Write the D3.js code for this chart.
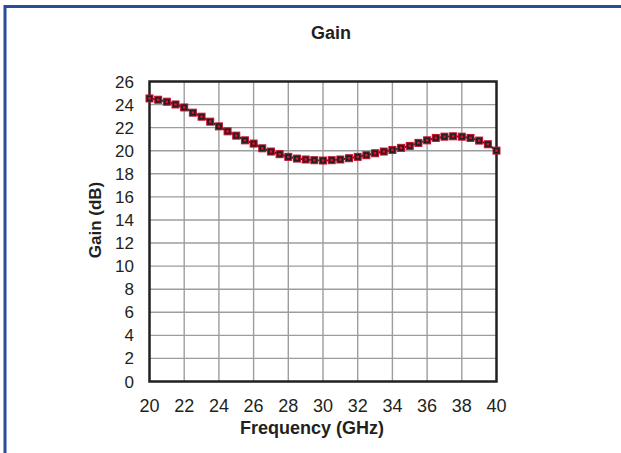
<!DOCTYPE html>
<html lang="en">
<head>
    <meta charset="UTF-8">
    <title>Gain</title>
    <script src="https://d3js.org/d3.v7.min.js"></script>
    <style>
        body { margin: 0; background: #fff; }
        svg text { font-family: "Liberation Sans", Arial, sans-serif; fill: #231f20; }
        .grid line { stroke: #9d9d9d; stroke-width: 1.4px; }
        .tick-label { font-size: 17px; }
        .axis-title { font-size: 17px; font-weight: bold; }
    </style>
</head>
<body>
    <svg width="621" height="453"></svg>
    <script>
        // frequency points (GHz)
        const freq = [20, 20.5, 21, 21.5, 22, 22.5, 23, 23.5, 24, 24.5,
                      25, 25.5, 26, 26.5, 27, 27.5, 28, 28.5, 29, 29.5,
                      30, 30.5, 31, 31.5, 32, 32.5, 33, 33.5, 34, 34.5,
                      35, 35.5, 36, 36.5, 37, 37.5, 38, 38.5, 39, 39.5, 40];
        // measured gain (dB)
        const gain = [24.53, 24.42, 24.25, 24.01, 23.75, 23.30, 22.95, 22.52, 22.11, 21.68,
                      21.31, 20.90, 20.62, 20.21, 19.93, 19.70, 19.47, 19.32, 19.24, 19.18,
                      19.15, 19.18, 19.24, 19.35, 19.47, 19.61, 19.78, 19.93, 20.07, 20.25,
                      20.42, 20.68, 20.90, 21.11, 21.22, 21.25, 21.22, 21.11, 20.88, 20.56, 20.01];
        const xTicks = [20, 22, 24, 26, 28, 30, 32, 34, 36, 38, 40];
        const yTicks = [0, 2, 4, 6, 8, 10, 12, 14, 16, 18, 20, 22, 24, 26];

        const svg = d3.select("svg");
        const plotL = 149.5, plotR = 496.5, plotT = 81.5, plotB = 381.5;

        const x = d3.scaleLinear().domain([20, 40]).range([plotL, plotR]);
        const y = d3.scaleLinear().domain([0, 26]).range([plotB, plotT]);

        // blue frame (top + left only)
        svg.append("line").attr("x1", 4).attr("x2", 621).attr("y1", 6.5).attr("y2", 6.5)
            .attr("stroke", "#2b4c9b").attr("stroke-width", 3);
        svg.append("line").attr("x1", 5).attr("x2", 5).attr("y1", 5).attr("y2", 453)
            .attr("stroke", "#2b4c9b").attr("stroke-width", 3);

        // grid
        const grid = svg.append("g").attr("class", "grid");
        grid.selectAll(".vx").data(xTicks.slice(1, -1)).enter().append("line")
            .attr("x1", d => x(d)).attr("x2", d => x(d))
            .attr("y1", plotT).attr("y2", plotB);
        grid.selectAll(".hy").data(yTicks.slice(1, -1)).enter().append("line")
            .attr("x1", plotL).attr("x2", plotR)
            .attr("y1", d => y(d)).attr("y2", d => y(d));

        // plot frame
        svg.append("rect")
            .attr("x", plotL).attr("y", plotT)
            .attr("width", plotR - plotL).attr("height", plotB - plotT)
            .attr("fill", "none").attr("stroke", "#231f20").attr("stroke-width", 2.5);

        // tick labels
        svg.append("g").selectAll("text").data(yTicks).enter().append("text")
            .attr("class", "tick-label")
            .attr("x", 134).attr("y", d => y(d) + 6)
            .attr("text-anchor", "end")
            .text(d => d);
        svg.append("g").selectAll("text").data(xTicks).enter().append("text")
            .attr("class", "tick-label")
            .attr("x", d => x(d)).attr("y", 412)
            .attr("text-anchor", "middle")
            .style("font-size", "18px")
            .text(d => d);

        // titles
        svg.append("text").attr("x", 331).attr("y", 39)
            .attr("text-anchor", "middle")
            .style("font-size", "18px").style("font-weight", "bold")
            .text("Gain");
        svg.append("text").attr("class", "axis-title")
            .attr("x", 312).attr("y", 434)
            .attr("text-anchor", "middle")
            .style("font-size", "18px")
            .text("Frequency (GHz)");
        svg.append("text").attr("class", "axis-title")
            .attr("transform", "translate(101,220) rotate(-90)")
            .attr("text-anchor", "middle")
            .text("Gain (dB)");

        // series
        const pts = freq.map((f, i) => ({ f: f, g: gain[i] }));
        svg.append("path").datum(pts)
            .attr("fill", "none").attr("stroke", "#231f20").attr("stroke-width", 2)
            .attr("d", d3.line().x(d => x(d.f)).y(d => y(d.g)));

        const mk = svg.append("g").selectAll("g").data(pts).enter().append("g")
            .attr("transform", d => `translate(${x(d.f)},${y(d.g)})`);
        mk.append("rect").attr("x", -3.5).attr("y", -3.5).attr("width", 7).attr("height", 7)
            .attr("fill", "#231f20").attr("stroke", "#c8102e").attr("stroke-width", 1);
        mk.append("rect").attr("x", -1.25).attr("y", -1.25).attr("width", 2.5).attr("height", 2.5)
            .attr("fill", "#e0102a");
    </script>
</body>
</html>
